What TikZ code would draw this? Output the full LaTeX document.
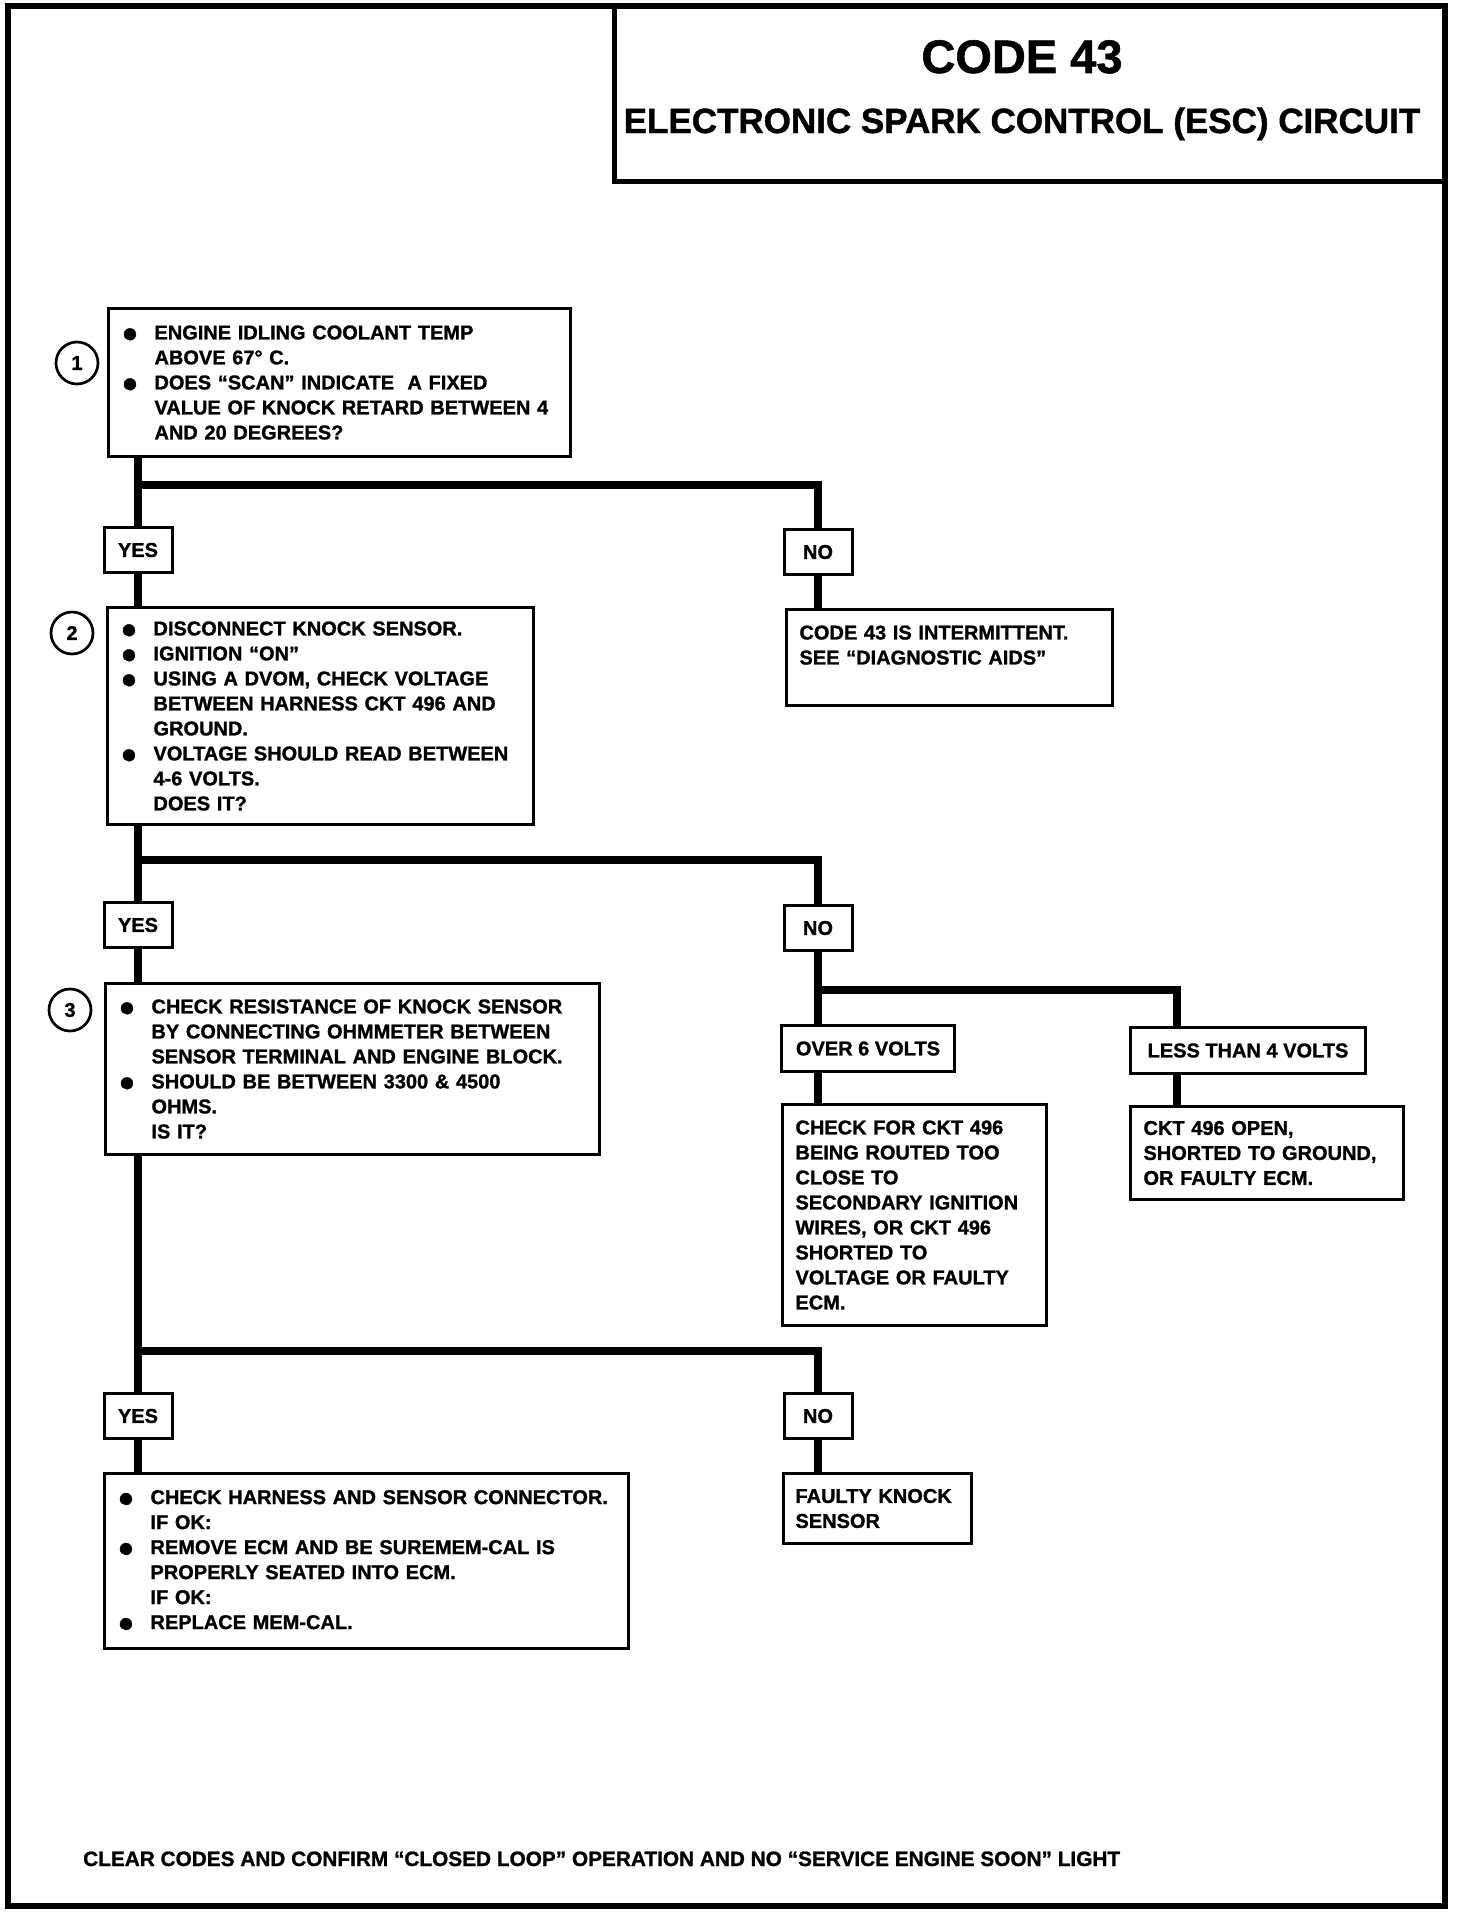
\documentclass[tikz,border=0pt]{standalone}
\usepackage{fontspec}
\setmainfont{Liberation Sans}[BoldFeatures={FakeBold=1.2}]
\newcommand{\bodyfont}{\fontsize{20}{25}\selectfont\bfseries}
\newcommand{\bul}{\makebox[33pt][l]{\raisebox{-2.8pt}{\fontsize{28}{28}\selectfont ●}}}
\newcommand{\ind}{\hspace*{33pt}}
\tikzset{
  stepbox/.style={draw, line width=3pt, anchor=north west, inner xsep=13pt, inner ysep=0pt, align=left, font=\bodyfont},
  answer/.style={draw, line width=3pt, minimum width=68pt, minimum height=45pt, inner sep=0pt, font=\bodyfont},
  flow/.style={line width=8pt},
  stepnum/.style={circle, draw, line width=2.7pt, minimum size=42pt, inner sep=0pt, font=\bodyfont}
}
\begin{document}
\begin{tikzpicture}[x=1pt,y=-1pt]
  \useasboundingbox (0,0) rectangle (1472,1916);
  % frame and title
  \draw[line width=6pt] (8,6) rectangle (1445,1906);
  \draw[line width=5pt] (614,6) rectangle (1445,181);
  \node[font=\fontsize{47}{47}\selectfont\bfseries, anchor=base] (code) at (1022,73) {CODE 43};
  \node[font=\fontsize{35}{35}\selectfont\bfseries, anchor=base] (esc) at (1022,133) {ELECTRONIC SPARK CONTROL (ESC) CIRCUIT};

  % step 1
  \node[stepnum] (n1) at (77,363) {1};
  \node[stepbox, minimum width=462pt, minimum height=148pt, text width=436pt] (q1) at (107,307)
    {\bul ENGINE IDLING COOLANT TEMP\\
     \ind ABOVE 67° C.\\
     \bul DOES “SCAN” INDICATE\ \ A FIXED\\
     \ind VALUE OF KNOCK RETARD BETWEEN 4\\
     \ind AND 20 DEGREES?};
  \node[answer] (yes1) at (138,550) {YES};
  \node[answer] (no1) at (818,552) {NO};
  \node[stepbox, minimum width=326pt, minimum height=96pt, text width=300pt] (int) at (785,608)
    {CODE 43 IS INTERMITTENT.\\
     SEE “DIAGNOSTIC AIDS”\\
     \mbox{}};

  % step 2
  \node[stepnum] (n2) at (72,633) {2};
  \node[stepbox, minimum width=426pt, minimum height=217pt, text width=400pt] (q2) at (106,606)
    {\bul DISCONNECT KNOCK SENSOR.\\
     \bul IGNITION “ON”\\
     \bul USING A DVOM, CHECK VOLTAGE\\
     \ind BETWEEN HARNESS CKT 496 AND\\
     \ind GROUND.\\
     \bul VOLTAGE SHOULD READ BETWEEN\\
     \ind 4-6 VOLTS.\\
     \ind DOES IT?};
  \node[answer] (yes2) at (138,925) {YES};
  \node[answer] (no2) at (818,928) {NO};
  \node[answer, anchor=north west, minimum width=173pt, minimum height=46pt] (over) at (780,1024) {OVER 6 VOLTS};
  \node[answer, anchor=north west, minimum width=235pt, minimum height=46pt] (less) at (1129,1026) {LESS THAN 4 VOLTS};
  \node[stepbox, minimum width=264pt, minimum height=221pt, text width=238pt] (check) at (781,1103)
    {CHECK FOR CKT 496\\
     BEING ROUTED TOO\\
     CLOSE TO\\
     SECONDARY IGNITION\\
     WIRES, OR CKT 496\\
     SHORTED TO\\
     VOLTAGE OR FAULTY\\
     ECM.};
  \node[stepbox, minimum width=273pt, minimum height=93pt, text width=247pt] (open) at (1129,1105)
    {CKT 496 OPEN,\\
     SHORTED TO GROUND,\\
     OR FAULTY ECM.};

  % step 3
  \node[stepnum] (n3) at (70,1010) {3};
  \node[stepbox, minimum width=494pt, minimum height=171pt, text width=468pt] (q3) at (104,982)
    {\bul CHECK RESISTANCE OF KNOCK SENSOR\\
     \ind BY CONNECTING OHMMETER BETWEEN\\
     \ind SENSOR TERMINAL AND ENGINE BLOCK.\\
     \bul SHOULD BE BETWEEN 3300 \& 4500\\
     \ind OHMS.\\
     \ind IS IT?};
  \node[answer] (yes3) at (138,1416) {YES};
  \node[answer] (no3) at (818,1416) {NO};
  \node[stepbox, minimum width=524pt, minimum height=175pt, text width=498pt] (fix) at (103,1472)
    {\bul CHECK HARNESS AND SENSOR CONNECTOR.\\
     \ind IF OK:\\
     \bul REMOVE ECM AND BE SUREMEM-CAL IS\\
     \ind PROPERLY SEATED INTO ECM.\\
     \ind IF OK:\\
     \bul REPLACE MEM-CAL.};
  \node[stepbox, inner xsep=12pt, minimum width=188pt, minimum height=70pt, text width=164pt] (faulty) at (782,1472)
    {FAULTY KNOCK\\
     SENSOR};

  \node[font=\fontsize{20.8}{25}\selectfont\bfseries, anchor=base west, inner sep=0pt] (note) at (83,1866)
    {CLEAR CODES AND CONFIRM “CLOSED LOOP” OPERATION AND NO “SERVICE ENGINE SOON” LIGHT};

  % connectors
  \coordinate (br1) at (138,485);
  \coordinate (br2) at (138,860);
  \coordinate (br3) at (1177,990);
  \coordinate (br4) at (138,1351);
  \draw[flow] (q1.south -| yes1) -- (yes1.north);
  \draw[flow] (br1) -| (no1.north);
  \draw[flow] (no1.south) -- (no1.south |- int.north);
  \draw[flow] (yes1.south) -- (yes1.south |- q2.north);
  \draw[flow] (q2.south -| yes2) -- (yes2.north);
  \draw[flow] (br2) -| (no2.north);
  \draw[flow] (yes2.south) -- (yes2.south |- q3.north);
  \draw[flow] (no2.south) -- (no2.south |- over.north);
  \draw[flow] (no2.south |- br3) -- (br3) -- (br3 |- less.north);
  \draw[flow] (over.south -| no2) -- (no2 |- check.north);
  \draw[flow] (br3 |- less.south) -- (br3 |- open.north);
  \draw[flow] (q3.south -| yes3) -- (yes3.north);
  \draw[flow] (br4) -| (no3.north);
  \draw[flow] (yes3.south) -- (yes3.south |- fix.north);
  \draw[flow] (no3.south) -- (no3.south |- faulty.north);
\end{tikzpicture}
\end{document}
